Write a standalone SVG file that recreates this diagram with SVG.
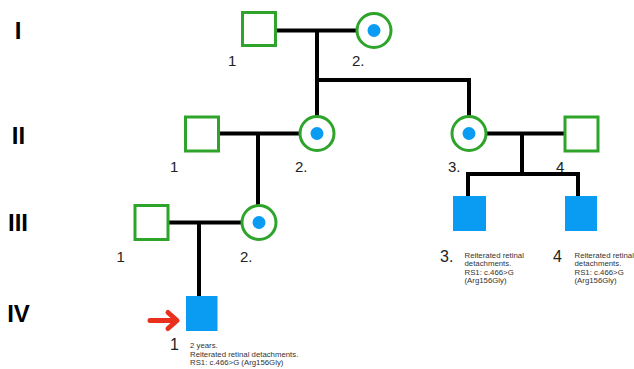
<svg xmlns="http://www.w3.org/2000/svg" width="634" height="369" viewBox="0 0 634 369">
  <style>
    .male { fill: #ffffff; stroke: #2ea52a; stroke-width: 3; }
    .female { fill: #ffffff; stroke: #2ea52a; stroke-width: 3; }
    .carrier { fill: #0a9cf2; }
    .affected { fill: #0a9cf2; }
    .line { stroke: #000000; stroke-width: 4; fill: none; }
    .gen { font-family: "Liberation Sans", Arial, sans-serif; font-weight: bold; font-size: 24px; fill: #000; text-anchor: middle; }
    .num { font-family: "Liberation Sans", Arial, sans-serif; font-size: 15px; fill: #222; }
    .num16 { font-family: "Liberation Sans", Arial, sans-serif; font-size: 16px; fill: #222; }
    .note { font-family: "Liberation Sans", Arial, sans-serif; font-size: 7.8px; fill: #333; }
  </style>

  <rect width="634" height="369" fill="#ffffff"/>

  <!-- generation labels -->
  <g id="generations">
    <text class="gen" x="18" y="38.5">I</text>
    <text class="gen" x="18.5" y="143.5">II</text>
    <text class="gen" x="18" y="231">III</text>
    <text class="gen" x="18.5" y="322">IV</text>
  </g>

  <!-- connectors -->
  <g id="connectors">
    <line class="line" x1="277" y1="30.5" x2="357" y2="30.5"/>
    <line class="line" x1="317" y1="30.5" x2="317" y2="116"/>
    <line class="line" x1="317" y1="80" x2="471" y2="80"/>
    <line class="line" x1="469" y1="78" x2="469" y2="116"/>

    <line class="line" x1="218" y1="133.5" x2="300" y2="133.5"/>
    <line class="line" x1="258" y1="133.5" x2="258" y2="205"/>

    <line class="line" x1="486" y1="133.5" x2="565" y2="133.5"/>
    <line class="line" x1="522" y1="133.5" x2="522" y2="174"/>
    <line class="line" x1="466" y1="174" x2="580" y2="174"/>
    <line class="line" x1="468" y1="172" x2="468" y2="197"/>
    <line class="line" x1="578" y1="172" x2="578" y2="197"/>

    <line class="line" x1="168" y1="222.5" x2="242" y2="222.5"/>
    <line class="line" x1="199" y1="222.5" x2="199" y2="297"/>
  </g>

  <!-- generation I -->
  <g id="I-1">
    <rect class="male" x="242.5" y="12.5" width="33" height="33"/>
    <text class="num" x="228" y="65.5">1</text>
  </g>
  <g id="I-2">
    <circle class="female" cx="374" cy="30.5" r="17"/>
    <circle class="carrier" cx="374" cy="30.5" r="6.5"/>
    <text class="num" x="352" y="65.5">2.</text>
  </g>

  <!-- generation II -->
  <g id="II-1">
    <rect class="male" x="185.5" y="117" width="33" height="34"/>
    <text class="num" x="170" y="172">1</text>
  </g>
  <g id="II-2">
    <circle class="female" cx="317" cy="133.5" r="17"/>
    <circle class="carrier" cx="317" cy="133.5" r="6.5"/>
    <text class="num" x="295" y="172">2.</text>
  </g>
  <g id="II-3">
    <circle class="female" cx="469" cy="133.5" r="17"/>
    <circle class="carrier" cx="469" cy="133.5" r="6.5"/>
    <text class="num" x="448" y="172">3.</text>
  </g>
  <g id="II-4">
    <rect class="male" x="565" y="117" width="33" height="34"/>
    <text class="num" x="556" y="172">4</text>
  </g>

  <!-- generation III -->
  <g id="III-1">
    <rect class="male" x="135" y="205.5" width="33" height="34"/>
    <text class="num" x="116.5" y="261.5">1</text>
  </g>
  <g id="III-2">
    <circle class="female" cx="259" cy="222.5" r="17"/>
    <circle class="carrier" cx="259" cy="222.5" r="6.5"/>
    <text class="num" x="240" y="261.5">2.</text>
  </g>
  <g id="III-3">
    <rect class="affected" x="453" y="196" width="33" height="35"/>
    <text class="num16" x="440" y="262">3.</text>
    <text class="note" x="464.5" y="257.5">Reiterated retinal</text>
    <text class="note" x="464.5" y="266">detachments.</text>
    <text class="note" x="464.5" y="274.7">RS1: c.466&gt;G</text>
    <text class="note" x="464.5" y="283.2">(Arg156Gly)</text>
  </g>
  <g id="III-4">
    <rect class="affected" x="565" y="196" width="32" height="35"/>
    <text class="num16" x="553" y="262">4</text>
    <text class="note" x="574.5" y="257.5">Reiterated retinal</text>
    <text class="note" x="574.5" y="266">detachments.</text>
    <text class="note" x="574.5" y="274.7">RS1: c.466&gt;G</text>
    <text class="note" x="574.5" y="283.2">(Arg156Gly)</text>
  </g>

  <!-- generation IV: proband -->
  <g id="IV-1">
    <rect class="affected" x="186" y="296" width="31.5" height="35"/>
    <path d="M150,320.5 H175 M168,312.5 L177,320.5 L168,328.5" fill="none" stroke="#e8301c" stroke-width="5" stroke-linecap="round" stroke-linejoin="round"/>
    <text class="num16" x="170" y="350">1</text>
    <text class="note" x="190" y="348">2 years.</text>
    <text class="note" x="190" y="356.5">Reiterated retinal detachments.</text>
    <text class="note" x="190" y="365">RS1: c.466&gt;G (Arg156Gly)</text>
  </g>
</svg>
